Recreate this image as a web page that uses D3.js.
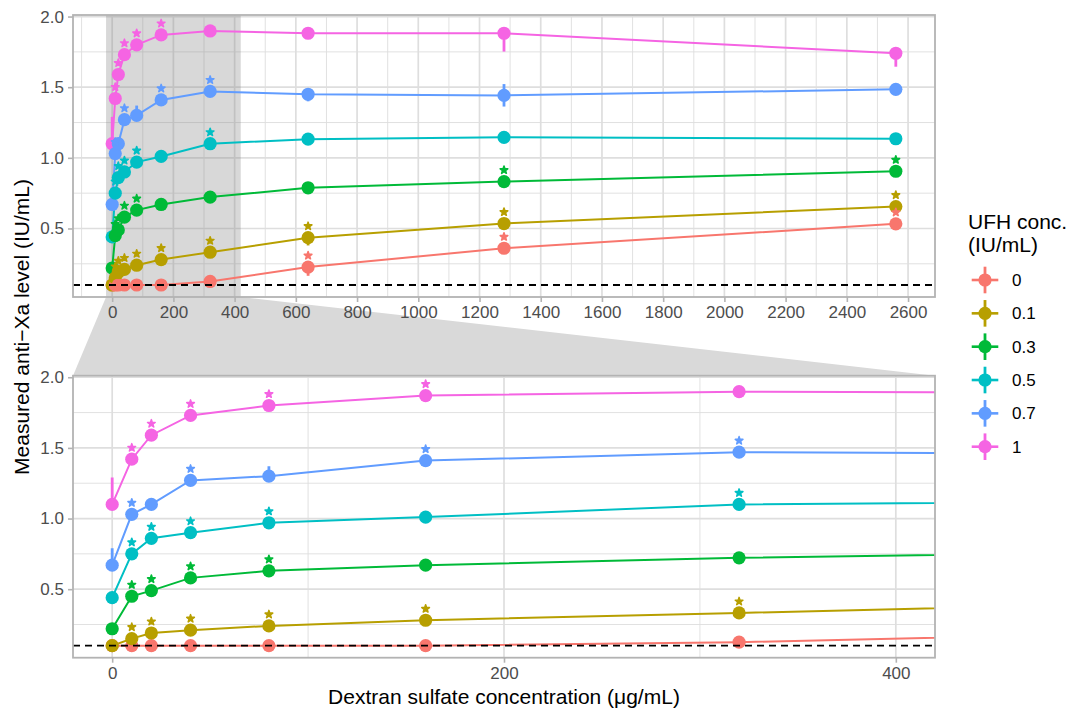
<!DOCTYPE html>
<html><head><meta charset="utf-8">
<script src="https://cdn.jsdelivr.net/npm/d3@7"></script>
<style>
body{margin:0;background:#fff}
text{font-family:"Liberation Sans",Arial,Helvetica,sans-serif}
</style>
</head><body>
<svg id="chart" width="1069" height="710"></svg>
<script>
// ---------- data ----------
const dextran = [0, 10, 20, 40, 80, 160, 320, 640, 1280, 2560];
const ufhLevels = ["0", "0.1", "0.3", "0.5", "0.7", "1"];
const ufh0   = [0.10, 0.10, 0.10, 0.10, 0.10, 0.10, 0.125, 0.227, 0.36, 0.533];
const ufh01  = [0.10, 0.15, 0.19, 0.21, 0.24, 0.28, 0.332, 0.435, 0.535, 0.655];
const ufh03  = [0.22, 0.45, 0.49, 0.58, 0.63, 0.67, 0.722, 0.788, 0.832, 0.905];
const ufh05  = [0.44, 0.75, 0.86, 0.90, 0.97, 1.01, 1.10, 1.132, 1.145, 1.135];
const ufh07  = [0.67, 1.03, 1.10, 1.27, 1.30, 1.41, 1.47, 1.45, 1.442, 1.485];
const ufh1   = [1.10, 1.42, 1.59, 1.73, 1.80, 1.87, 1.898, 1.882, 1.882, 1.74];
const sig0   = [0, 0, 0, 0, 0, 0, 0, 1, 1, 1];
const sig01  = [0, 1, 1, 1, 1, 1, 1, 1, 1, 1];
const sig03  = [0, 1, 1, 1, 1, 0, 0, 0, 1, 1];
const sig05  = [0, 1, 1, 1, 1, 0, 1, 0, 0, 0];
const sig07  = [0, 1, 0, 1, 0, 1, 1, 0, 0, 0];
const sig1   = [0, 1, 1, 1, 1, 1, 0, 0, 0, 0];
// visible error ranges (min, max)
const errorBars = [
  {ufh: "1",   x: 0,    lo: 1.06,  hi: 1.29},
  {ufh: "0.7", x: 0,    lo: 0.64,  hi: 0.79},
  {ufh: "0.7", x: 80,   lo: 1.27,  hi: 1.37},
  {ufh: "0.7", x: 640,  lo: 1.40,  hi: 1.48},
  {ufh: "0.7", x: 1280, lo: 1.363, hi: 1.522},
  {ufh: "1",   x: 1280, lo: 1.752, hi: 1.90},
  {ufh: "1",   x: 2560, lo: 1.645, hi: 1.76},
  {ufh: "0.1", x: 640,  lo: 0.38,  hi: 0.47},
  {ufh: "0",   x: 640,  lo: 0.165, hi: 0.26}
];
const colors = ["#F8766D", "#B79F00", "#00BA38", "#00BFC4", "#619CFF", "#F564E3"];
const xTicksTop = [0, 200, 400, 600, 800, 1000, 1200, 1400, 1600, 1800, 2000, 2200, 2400, 2600];
const xMinorTop = [-100, 100, 300, 500, 700, 900, 1100, 1300, 1500, 1700, 1900, 2100, 2300, 2500];
const xTicksBottom = [0, 200, 400];
const xMinorBottom = [100, 300];
const yTicks = [0.5, 1.0, 1.5, 2.0];
const yMinor = [0.25, 0.75, 1.25, 1.75];
const threshold = 0.1;
const zoomRange = [-20, 420];

const seriesValues = [ufh0, ufh01, ufh03, ufh05, ufh07, ufh1];
const seriesSig = [sig0, sig01, sig03, sig05, sig07, sig1];
const series = ufhLevels.map((lvl, i) => ({
  lvl, color: colors[i],
  pts: dextran.map((x, j) => {
    const eb = errorBars.find(e => e.ufh === lvl && e.x === x);
    return {x, y: seriesValues[i][j], sig: seriesSig[i][j], lo: eb ? eb.lo : null, hi: eb ? eb.hi : null, si: i};
  })
}));
const allPts = [];
dextran.forEach((x, j) => series.forEach(s => allPts.push(s.pts[j])));

// ---------- layout ----------
const svg = d3.select("#chart");
const L = 73, R = 935;
const yDomain = [0.015, 2.011];
const xTop = d3.scaleLinear().domain([-128, 2688]).range([L, R]);
const xBot = d3.scaleLinear().domain([-20, 420]).range([L, R]);
const yTop = d3.scaleLinear().domain(yDomain).range([297, 15]);
const yBot = d3.scaleLinear().domain(yDomain).range([657.7, 375.7]);

const gridCol = "#dedede", borderCol = "#b3b3b3", tickTextCol = "#4d4d4d";

// connector trapezoid (behind everything)
svg.append("polygon")
  .attr("points", [
    [xTop(zoomRange[0]), yTop.range()[0]],
    [xTop(zoomRange[1]), yTop.range()[0]],
    [xBot(zoomRange[1]), yBot.range()[1]],
    [xBot(zoomRange[0]), yBot.range()[1]]
  ].map(p => p.join(",")).join(" "))
  .attr("fill", "#d9d9d9");

function panel(id, x, y, xTicks, xMinor, showZoom) {
  const g = svg.append("g");
  const [y0, y1] = y.range();
  const defs = g.append("defs");
  defs.append("clipPath").attr("id", id).append("rect")
    .attr("x", L).attr("y", y1).attr("width", R - L).attr("height", y0 - y1);
  g.append("rect").attr("x", L).attr("y", y1).attr("width", R - L).attr("height", y0 - y1).attr("fill", "#fff");
  const c = g.append("g").attr("clip-path", `url(#${id})`);
  // minor grid
  c.selectAll(".vmin").data(xMinor).join("line")
    .attr("x1", d => x(d)).attr("x2", d => x(d)).attr("y1", y1).attr("y2", y0)
    .attr("stroke", gridCol).attr("stroke-width", 0.9);
  c.selectAll(".hmin").data(yMinor).join("line")
    .attr("y1", d => y(d)).attr("y2", d => y(d)).attr("x1", L).attr("x2", R)
    .attr("stroke", gridCol).attr("stroke-width", 0.9);
  // major grid
  c.selectAll(".vmaj").data(xTicks).join("line")
    .attr("x1", d => x(d)).attr("x2", d => x(d)).attr("y1", y1).attr("y2", y0)
    .attr("stroke", gridCol).attr("stroke-width", 1.7);
  c.selectAll(".hmaj").data(yTicks).join("line")
    .attr("y1", d => y(d)).attr("y2", d => y(d)).attr("x1", L).attr("x2", R)
    .attr("stroke", gridCol).attr("stroke-width", 1.7);
  if (showZoom) {
    c.append("rect")
      .attr("x", x(zoomRange[0])).attr("width", x(zoomRange[1]) - x(zoomRange[0]))
      .attr("y", y1).attr("height", y0 - y1)
      .attr("fill", "#7f7f7f").attr("fill-opacity", 0.3);
  }
  // lines
  const line = d3.line().x(d => x(d.x)).y(d => y(d.y));
  c.selectAll(".series").data(series).join("path")
    .attr("d", s => line(s.pts)).attr("fill", "none")
    .attr("stroke", s => s.color).attr("stroke-width", 2);
  // pointranges
  const pr = c.selectAll(".pr").data(allPts).join("g");
  pr.filter(d => d.lo !== null).append("line")
    .attr("x1", d => x(d.x)).attr("x2", d => x(d.x))
    .attr("y1", d => y(d.lo)).attr("y2", d => y(d.hi))
    .attr("stroke", d => colors[d.si]).attr("stroke-width", 2.8);
  pr.append("circle").attr("cx", d => x(d.x)).attr("cy", d => y(d.y)).attr("r", 6.6)
    .attr("fill", d => colors[d.si]);
  // significance stars
  const star = d3.symbol().type(d3.symbolStar).size(18);
  c.selectAll(".star").data(allPts.filter(d => d.sig)).join("path")
    .attr("d", star)
    .attr("transform", d => `translate(${x(d.x)},${y(d.y) - 11.5})`)
    .attr("fill", d => colors[d.si]).attr("stroke", d => colors[d.si])
    .attr("stroke-width", 1.6).attr("stroke-linejoin", "round");
  // threshold line
  c.append("line").attr("x1", L).attr("x2", R).attr("y1", y(threshold)).attr("y2", y(threshold))
    .attr("stroke", "#000").attr("stroke-width", 1.8).attr("stroke-dasharray", "7,5");
  // border
  g.append("rect").attr("x", L).attr("y", y1).attr("width", R - L).attr("height", y0 - y1)
    .attr("fill", "none").attr("stroke", borderCol).attr("stroke-width", 1.8);
  // axes
  const ax = g.append("g").attr("transform", `translate(0,${y0})`)
    .call(d3.axisBottom(x).tickValues(xTicks).tickSize(5).tickPadding(4).tickFormat(d3.format("d")));
  const ay = g.append("g").attr("transform", `translate(${L},0)`)
    .call(d3.axisLeft(y).tickValues(yTicks).tickSize(5).tickPadding(4).tickFormat(d3.format(".1f")));
  [ax, ay].forEach(a => {
    a.select(".domain").remove();
    a.selectAll(".tick line").attr("stroke", borderCol).attr("stroke-width", 1.6);
    a.selectAll(".tick text").attr("fill", tickTextCol).attr("font-size", "17px")
      .attr("font-family", '"Liberation Sans",Arial,sans-serif');
  });
}

panel("clipTop", xTop, yTop, xTicksTop, xMinorTop, true);
panel("clipBot", xBot, yBot, xTicksBottom, xMinorBottom, false);

// axis titles
svg.append("text").attr("x", (L + R) / 2).attr("y", 704).attr("text-anchor", "middle")
  .attr("font-size", "21px").attr("fill", "#000")
  .text("Dextran sulfate concentration (μg/mL)");
svg.append("text").attr("transform", "translate(29,327) rotate(-90)").attr("text-anchor", "middle")
  .attr("font-size", "21px").attr("fill", "#000")
  .text("Measured anti−Xa level (IU/mL)");

// legend
const lg = svg.append("g");
lg.append("text").attr("x", 968).attr("y", 229).attr("font-size", "21px").text("UFH conc.");
lg.append("text").attr("x", 968).attr("y", 252).attr("font-size", "21px").text("(IU/mL)");
const keyY = d3.scalePoint().domain(ufhLevels).range([280, 446.7]);
const keys = lg.selectAll(".key").data(series).join("g")
  .attr("transform", s => `translate(985,${keyY(s.lvl)})`);
keys.append("line").attr("x1", -13.3).attr("x2", 13.3).attr("stroke", s => s.color).attr("stroke-width", 2.6);
keys.append("line").attr("y1", -13.3).attr("y2", 13.3).attr("stroke", s => s.color).attr("stroke-width", 2.8);
keys.append("circle").attr("r", 6.6).attr("fill", s => s.color);
keys.append("text").attr("x", 27).attr("y", 6).attr("font-size", "17px").attr("fill", "#000").text(s => s.lvl);
</script>
</body></html>
